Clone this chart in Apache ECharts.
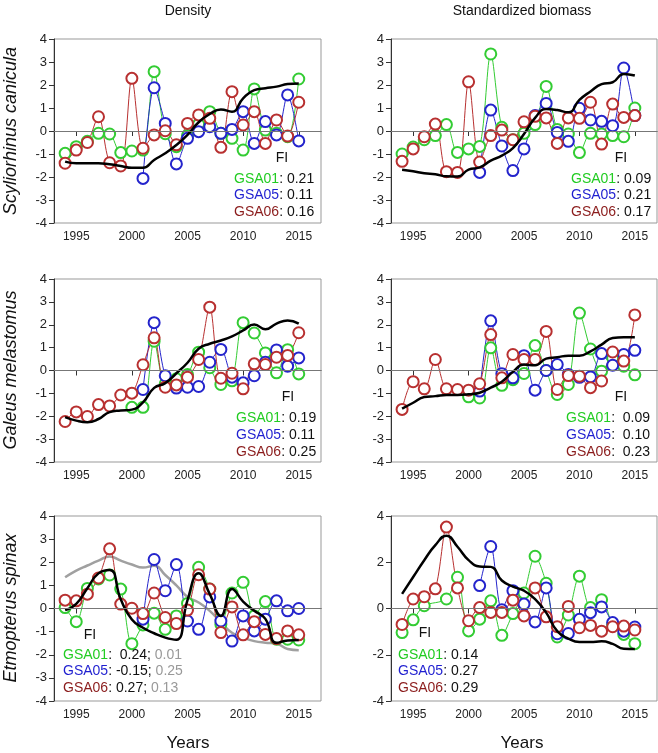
<!DOCTYPE html>
<html>
<head>
<meta charset="utf-8">
<title>Shark indices</title>
<script src="https://cdn.jsdelivr.net/npm/echarts@6/dist/echarts.min.js"></script>
<style>
  html, body { margin: 0; padding: 0; background: #fff; }
  #chart { width: 658px; height: 753px; }
</style>
</head>
<body>
<div id="chart"></div>
<script>
// years of the survey
var years = [1994, 1995, 1996, 1997, 1998, 1999, 2000, 2001, 2002, 2003, 2004,
             2005, 2006, 2007, 2008, 2009, 2010, 2011, 2012, 2013, 2014, 2015];
var yearTicks = [1995, 2000, 2005, 2010, 2015];

// Scyliorhinus canicula - density
var scDensGreen = [-0.97, -0.68, -0.45, -0.1, -0.13, -0.94, -0.87, -0.83, 2.58, -0.12, -0.68, -0.2, 0.3, 0.84, -0.1, -0.32, -0.83, 1.83, 0.04, -0.1, -0.25, 2.26];
var scDensBlue = [null, null, null, null, null, null, null, -2.06, 1.88, 0.33, -1.43, -0.32, -0.03, 0.19, -0.1, 0.07, 0.84, -0.54, 0.41, -0.17, 1.57, -0.43];
var scDensRed = [-1.4, -0.83, -0.5, 0.62, -1.38, -1.52, 2.29, -0.75, -0.17, 0.01, -0.6, 0.33, 0.7, 0.55, -0.71, 1.71, 0.26, 0.84, -0.54, 0.48, -0.22, 1.25];
var scDensTrend = [-1.33, -1.4, -1.4, -1.4, -1.45, -1.52, -1.6, -1.6, -1.26, -0.97, -0.61, -0.17, 0.38, 0.74, 0.94, 0.84, 1.42, 1.78, 1.86, 1.93, 2.04, 2.07];

// Scyliorhinus canicula - standardized biomass
var scBioGreen = [-1.0, -0.7, -0.38, -0.2, 0.28, -0.93, -0.78, -0.67, 3.35, 0.16, -0.38, -0.1, 0.28, 1.94, 0.07, -0.13, -0.94, -0.1, -0.13, -0.2, -0.25, 1.0];
var scBioBlue = [null, null, null, null, null, null, null, -1.8, 0.91, -0.65, -1.72, -0.78, 0.67, 1.2, -0.06, -0.45, 0.99, 0.48, 0.42, 0.23, 2.74, 0.67];
var scBioRed = [-1.32, -0.78, -0.25, 0.3, -1.77, -1.8, 2.14, -1.35, -0.2, 0.04, -0.38, 0.4, 0.64, 0.57, -0.54, 0.57, 0.55, 1.25, -0.57, 1.17, 0.59, 0.67];
var scBioTrend = [-1.68, -1.75, -1.84, -1.88, -1.97, -1.98, -1.68, -1.58, -1.29, -1.07, -0.74, -0.13, 0.57, 0.96, 0.91, 0.81, 1.35, 1.72, 2.04, 2.12, 2.48, 2.41];

// Galeus melastomus - density
var gmDensGreen = [null, null, null, null, null, null, -1.61, -1.61, 1.28, -0.58, -0.36, -0.18, 0.8, 0.12, -0.61, -0.45, 2.09, 1.64, 0.77, -0.1, 0.91, -0.15];
var gmDensBlue = [null, null, null, null, null, null, null, -0.83, 2.09, -0.23, -0.77, -0.73, -0.7, 0.36, 0.92, -0.29, -0.54, -0.23, 0.36, 0.9, 0.19, 0.55];
var gmDensRed = [-2.23, -1.81, -2.01, -1.49, -1.55, -1.07, -0.99, 0.25, 1.43, -0.73, -0.63, -0.29, 0.48, 2.77, -0.34, -0.12, -0.8, 0.29, 0.26, 0.58, 0.66, 1.65];
var gmDensTrend = [-2.04, -2.19, -2.26, -2.12, -1.82, -1.75, -1.71, -1.39, -0.76, -0.55, -0.12, 0.34, 0.95, 1.17, 1.31, 1.49, 1.75, 2.01, 1.8, 2.05, 2.19, 2.05];

// Galeus melastomus - standardized biomass
var gmBioGreen = [null, null, null, null, null, null, -1.15, -1.2, 0.99, -0.65, -0.4, -0.13, 1.09, 0.0, -1.05, -0.61, 2.51, 0.94, -0.03, 0.55, 0.19, -0.19];
var gmBioBlue = [null, null, null, null, null, null, null, -0.9, 2.17, -0.14, -0.32, 0.65, -0.86, 0.0, 0.26, -0.17, -0.3, -0.28, 0.74, 0.23, 0.7, 0.88];
var gmBioRed = [-1.7, -0.49, -0.8, 0.48, -0.8, -0.83, -0.86, -0.58, 1.57, -0.32, 0.7, 0.48, 0.48, 1.71, -0.83, -0.22, -0.25, -0.75, -0.46, 0.81, 0.41, 2.43];
var gmBioTrend = [-1.67, -1.41, -1.16, -1.12, -1.07, -1.07, -1.04, -0.97, -0.75, -0.49, -0.06, 0.26, 0.23, 0.52, 0.58, 0.65, 0.65, 0.84, 1.13, 1.42, 1.45, 1.45];

// Etmopterus spinax - density
var esDensGreen = [0.04, -0.57, 0.87, 1.28, 1.45, 0.84, -1.52, -0.71, -0.2, -0.9, -0.32, 0.22, 1.78, 0.84, -0.68, 0.67, 1.13, -0.32, 0.3, -1.33, -1.33, -1.36];
var esDensBlue = [null, null, null, null, null, null, null, -0.46, 2.12, 0.77, 1.9, -0.54, -0.9, 0.5, -0.54, -1.41, -0.32, -0.97, -0.46, 0.33, -0.1, 0.0];
var esDensRed = [0.36, 0.33, 0.62, 1.32, 2.58, 0.19, 0.01, -0.22, 0.67, -0.39, -0.65, -0.07, 1.46, 0.84, -1.04, 0.07, -1.14, -0.57, -1.12, -1.3, -0.97, -1.14];
var esDensTrend = [-0.07, 0.2, 0.88, 1.52, 1.67, 0.4, -0.48, -0.83, -1.07, -1.26, -1.35, 0.36, 1.52, 0.62, -0.32, 0.84, 0.3, -0.1, -0.45, -1.48, -1.38, -1.36];
var esDensGrey = [1.35, 1.64, 1.86, 2.07, 2.25, 2.07, 1.9, 1.77, 1.85, 1.45, 1.0, 0.5, 0.26, -0.1, -0.6, -1.05, -1.26, -1.41, -1.48, -1.52, -1.75, -1.8];

// Etmopterus spinax - standardized biomass (no GSA01 value in 1997)
var esBioGreen = [-1.04, -0.49, 0.12, null, 0.41, 1.35, -0.97, -0.46, 0.33, -1.16, -0.22, 0.67, 2.26, 1.09, -1.23, -0.28, 1.4, 0.04, 0.38, -0.7, -1.12, -1.52];
var esBioBlue = [null, null, null, null, null, null, null, 0.99, 2.68, -0.05, 0.77, 0.19, -0.58, 0.89, -1.09, -1.08, -0.47, -0.18, 0.07, -0.61, -0.98, -0.8];
var esBioRed = [-0.69, 0.41, 0.51, 0.85, 3.52, 0.89, -0.53, 0.04, -0.17, -0.17, 0.36, -0.32, 0.89, -0.36, -0.79, 0.09, -0.83, -0.73, -0.98, -0.79, -0.76, -0.93];
var esBioTrend = [0.63, 1.36, 2.09, 2.74, 3.15, 2.67, 2.09, 1.82, 1.8, 1.21, 0.95, 0.77, 0.41, -0.18, -0.98, -1.3, -1.45, -1.45, -1.42, -1.53, -1.74, -1.75];

var GREEN = '#33cc33', BLUE = '#2424cc', RED = '#b83030', DARKRED = '#8b1c1c';
var FONT = 'Liberation Sans, Arial, sans-serif';

var myChart = echarts.init(document.getElementById('chart'));

var grids = [
  { left: 54, top: 39, width: 267, height: 184 },
  { left: 391, top: 39, width: 266, height: 184 },
  { left: 54, top: 279, width: 267, height: 183 },
  { left: 391, top: 279, width: 266, height: 183 },
  { left: 54, top: 516, width: 267, height: 185 },
  { left: 391, top: 516, width: 266, height: 185 }
];

function pairs(vals) {
  var out = [];
  for (var i = 0; i < years.length; i++) {
    out.push([years[i], vals[i] == null ? null : vals[i]]);
  }
  return out;
}

var xAxes = [], yAxes = [], series = [];

function panel(idx, green, blue, red, trend, grey, yStep) {
  xAxes.push({
    type: 'value', gridIndex: idx, min: 1993, max: 2017,
    splitLine: { show: false },
    axisLine: { lineStyle: { color: '#333' } },
    axisTick: { customValues: yearTicks, length: 5, lineStyle: { color: '#333' } },
    axisLabel: {
      customValues: yearTicks, fontSize: 12, color: '#222', fontFamily: FONT, margin: 8,
      formatter: function (v) { return String(v); }
    }
  });
  yAxes.push({
    type: 'value', gridIndex: idx, min: -4, max: 4, interval: yStep,
    splitLine: { show: false },
    axisLine: { show: true, lineStyle: { color: '#333' } },
    axisTick: { show: true, length: 5, lineStyle: { color: '#333' } },
    axisLabel: { fontSize: 13, color: '#222', fontFamily: FONT, margin: 7 }
  });
  var thin = function (vals, c) {
    return {
      type: 'line', xAxisIndex: idx, yAxisIndex: idx, data: pairs(vals),
      symbol: 'emptyCircle', symbolSize: 11, showAllSymbol: true, smooth: 0.3,
      connectNulls: true,
      lineStyle: { color: c, width: 1 },
      itemStyle: { color: c, borderWidth: 1 },
      z: 3
    };
  };
  series.push({
    type: 'line', xAxisIndex: idx, yAxisIndex: idx, data: [], silent: true,
    markLine: {
      silent: true, symbol: 'none', label: { show: false },
      lineStyle: { color: '#777', width: 1, type: 'solid' },
      data: [{ yAxis: 0 }]
    }
  });
  if (grey) {
    series.push({
      type: 'line', xAxisIndex: idx, yAxisIndex: idx, data: pairs(grey),
      symbol: 'none', smooth: 0.5, lineStyle: { color: '#a0a0a0', width: 2.5 }, z: 2
    });
  }
  series.push(thin(green, GREEN));
  series.push(thin(blue, BLUE));
  series.push(thin(red, RED));
  series.push({
    type: 'line', xAxisIndex: idx, yAxisIndex: idx, data: pairs(trend),
    symbol: 'none', smooth: 0.5, lineStyle: { color: '#000', width: 2.5 }, z: 4
  });
}

panel(0, scDensGreen, scDensBlue, scDensRed, scDensTrend, null, 1);
panel(1, scBioGreen, scBioBlue, scBioRed, scBioTrend, null, 1);
panel(2, gmDensGreen, gmDensBlue, gmDensRed, gmDensTrend, null, 1);
panel(3, gmBioGreen, gmBioBlue, gmBioRed, gmBioTrend, null, 1);
panel(4, esDensGreen, esDensBlue, esDensRed, esDensTrend, esDensGrey, 1);
panel(5, esBioGreen, esBioBlue, esBioRed, esBioTrend, null, 2);

// zrender rich text uses "fill" for the colour
var rich = {
  g: { fill: '#22cc22', fontSize: 14, fontFamily: FONT },
  b: { fill: '#1f1fd0', fontSize: 14, fontFamily: FONT },
  r: { fill: DARKRED, fontSize: 14, fontFamily: FONT },
  gr: { fill: '#999', fontSize: 14, fontFamily: FONT }
};

function label(x, y, text) {
  return {
    type: 'text', x: x, y: y, z: 50,
    style: { text: text, rich: rich, fill: '#111', fontSize: 14, fontFamily: FONT, verticalAlign: 'middle' }
  };
}
function plain(x, y, text, size) {
  return {
    type: 'text', x: x, y: y, z: 50,
    style: { text: text, fill: '#111', fontSize: size, fontFamily: FONT, align: 'center', verticalAlign: 'middle' }
  };
}
function species(y, text) {
  return {
    type: 'text', x: 11, y: y, rotation: Math.PI / 2, z: 50,
    style: { text: text, fill: '#111', fontSize: 18, fontStyle: 'italic', fontFamily: FONT, align: 'center', verticalAlign: 'middle' }
  };
}

var graphics = [
  plain(188, 11, 'Density', 14),
  plain(522, 11, 'Standardized biomass', 14),
  plain(188, 743, 'Years', 17),
  plain(522, 743, 'Years', 17),
  species(131, 'Scyliorhinus canicula'),
  species(370, 'Galeus melastomus'),
  species(608, 'Etmopterus spinax'),

  plain(282, 158, 'FI', 14),
  label(234, 179, '{g|GSA01}: 0.21'),
  label(234, 195, '{b|GSA05}: 0.11'),
  label(234, 212, '{r|GSA06}: 0.16'),

  plain(621, 158, 'FI', 14),
  label(571, 179, '{g|GSA01}: 0.09'),
  label(571, 195, '{b|GSA05}: 0.21'),
  label(571, 212, '{r|GSA06}: 0.17'),

  plain(288, 397, 'FI', 14),
  label(236, 418, '{g|GSA01}: 0.19'),
  label(236, 435, '{b|GSA05}: 0.11'),
  label(236, 452, '{r|GSA06}: 0.25'),

  plain(621, 397, 'FI', 14),
  label(566, 418, '{g|GSA01}:  0.09'),
  label(566, 435, '{b|GSA05}:  0.10'),
  label(566, 452, '{r|GSA06}:  0.23'),

  plain(90, 635, 'FI', 14),
  label(63, 655, '{g|GSA01}:  0.24; {gr|0.01}'),
  label(63, 671, '{b|GSA05}: -0.15; {gr|0.25}'),
  label(63, 688, '{r|GSA06}: 0.27; {gr|0.13}'),

  plain(425, 633, 'FI', 14),
  label(398, 655, '{g|GSA01}: 0.14'),
  label(398, 671, '{b|GSA05}: 0.27'),
  label(398, 688, '{r|GSA06}: 0.29')
];

var option = {
  animation: false,
  backgroundColor: '#fff',
  grid: grids.map(function (g) {
    return { left: g.left, top: g.top, width: g.width, height: g.height, show: true, borderColor: '#999', borderWidth: 1 };
  }),
  xAxis: xAxes,
  yAxis: yAxes,
  series: series,
  graphic: graphics
};

myChart.setOption(option);
</script>
</body>
</html>
